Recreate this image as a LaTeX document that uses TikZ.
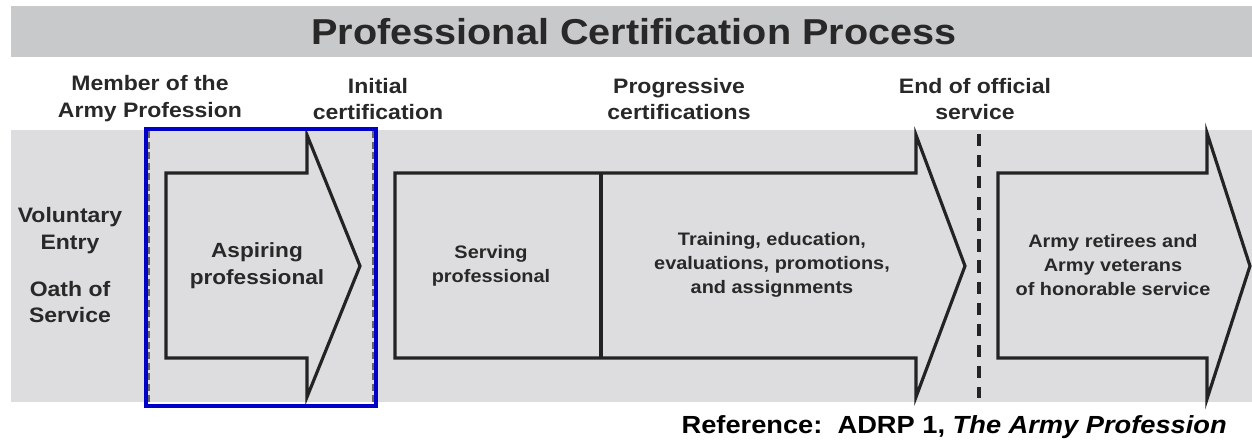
\documentclass[tikz,border=0pt]{standalone}
\usepackage{fontspec}
\setmainfont[FakeStretch=1.1]{Liberation Sans}
\usetikzlibrary{positioning}

\begin{document}
\begin{tikzpicture}[x=0.02cm, y=-0.02cm,
    stage/.style={draw=arrowline, line width=1.8pt, fill=bandgray, line join=miter},
    heading/.style={font=\fontsize{11.9}{15.3}\selectfont\bfseries, text=textgray, align=center},
    inside/.style={font=\fontsize{11.7}{15.3}\selectfont\bfseries, text=textgray, align=center},
    small/.style={font=\fontsize{10.3}{13.6}\selectfont\bfseries, text=textgray, align=center},
    entry/.style={font=\fontsize{11.9}{15.3}\selectfont\bfseries, text=textgray, align=center}
]

% Define colors close to the original slide
\definecolor{titlegray}{RGB}{200, 201, 203}
\definecolor{bandgray}{RGB}{221, 221, 223}
\definecolor{arrowline}{RGB}{35, 35, 35}
\definecolor{textgray}{RGB}{40, 40, 40}
\definecolor{markblue}{RGB}{0, 0, 200}

\useasboundingbox[fill=white] (0,0) rectangle (1252,442);

% Title bar
\fill[titlegray] (11,6) rectangle (1252,57);
\node[font=\fontsize{20.5}{24}\selectfont\bfseries, text=textgray] (title) at (634,32) {Professional Certification Process};

% Column headings
\node[heading] (member) at (150,99) {Member of the\\Army Profession};
\node[heading] (initial) at (378,99) {Initial\\certification};
\node[heading] (progressive) at (679,99) {Progressive\\certifications};
\node[heading] (endservice) at (975,99) {End of official\\service};

% Gray band
\fill[bandgray] (11,130) rectangle (1252,402);

% Entry text
\node[entry] (entry) at (70,231) {Voluntary\\Entry};
\node[entry] (oath) at (70,302) {Oath of\\Service};

% Aspiring professional arrow
\draw[stage] (166,173) -- (307,173) -- (307,135) -- (360,266) -- (307,397) -- (307,358) -- (166,358) -- cycle;
\node[inside] (aspiring) at (257,266) {Aspiring\\professional};

% Serving professional arrow
\draw[stage] (395,173) -- (916,173) -- (916,135) -- (965,266) -- (916,397) -- (916,358) -- (395,358) -- cycle;
\draw[draw=arrowline, line width=1.8pt] (601,173) -- (601,358);
\node[small] (serving) at (491,266) {Serving\\professional};
\node[small] (training) at (772,265) {Training, education,\\evaluations, promotions,\\and assignments};

% End of official service line
\draw[draw=arrowline, line width=1.8pt, dash pattern=on 7pt off 5pt] (979,134) -- (979,398);

% Veterans arrow
\draw[stage] (998,173) -- (1207,173) -- (1207,133) -- (1250,266) -- (1207,399) -- (1207,358) -- (998,358) -- cycle;
\node[small] (retirees) at (1113,265) {Army retirees and\\Army veterans\\of honorable service};

% Highlight box
\draw[arrowline!70, line width=0.6pt, dash pattern=on 4pt off 2pt] (149,131) -- (149,403);
\draw[arrowline!70, line width=0.6pt, dash pattern=on 4pt off 2pt] (373,131) -- (373,403);
\draw[markblue, line width=2.2pt] (146,129) rectangle (376,406);

% Source line
\node[anchor=east, font=\fontsize{14.1}{16}\selectfont\bfseries, text=black] (source) at (1233,427) {Reference:\ \ ADRP 1, \textit{The Army Profession}};

\end{tikzpicture}
\end{document}
